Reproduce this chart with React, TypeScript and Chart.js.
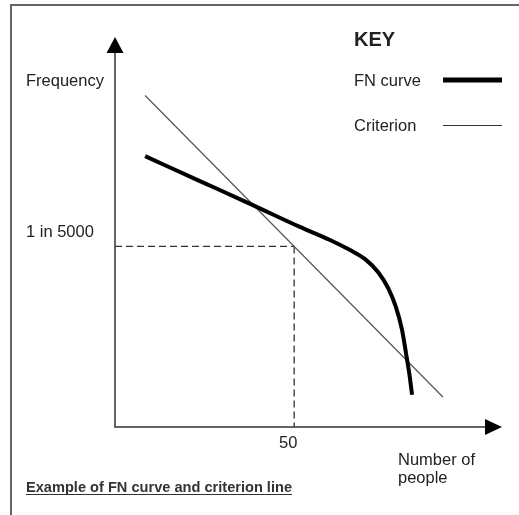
import React, { useEffect, useRef } from 'react';
import { Chart, registerables } from 'chart.js';

Chart.register(...registerables);

// ---- data (arbitrary schematic units) ----
const fnX = [8.4, 23.7, 37.7, 51.6, 60.0, 65.6, 69.8, 73.4, 76.2, 78.4, 80.1, 81.2, 82.1, 82.9];
const fnY = [75.0, 68.1, 61.8, 55.4, 51.8, 49.0, 46.5, 42.9, 38.5, 33.2, 26.9, 20.5, 15.0, 8.9];
const criterionX = [8.4, 91.5];
const criterionY = [91.8, 8.3];
const refX = 50;
const refY = 50;
const xTickValues = [50];
const xTickLabels = ['50'];
const yTickValues = [50];
const yTickLabels = ['1 in 5000'];
const xAxisTitle = ['Number of', 'people'];
const yAxisTitle = 'Frequency';
const legendTitle = 'KEY';
const seriesNames = ['FN curve', 'Criterion'];
const caption = 'Example of FN curve and criterion line';
const axisMax = 108;

const FONT = '"Liberation Sans", Arial, sans-serif';
const TEXT = '#222';

const decorPlugin = {
  id: 'decor',
  beforeDraw(chart: any) {
    const ctx = chart.ctx;
    ctx.save();
    ctx.fillStyle = '#fff';
    ctx.fillRect(0, 0, chart.width, chart.height);
    // frame
    ctx.strokeStyle = '#666';
    ctx.lineWidth = 2;
    ctx.beginPath();
    ctx.moveTo(11, chart.height);
    ctx.lineTo(11, 5);
    ctx.lineTo(chart.width, 5);
    ctx.stroke();
    ctx.restore();
  },
  beforeDatasetsDraw(chart: any) {
    const ctx = chart.ctx;
    const xs = chart.scales.x;
    const ys = chart.scales.y;
    const ca = chart.chartArea;
    const x0 = xs.getPixelForValue(0);
    const y0 = ys.getPixelForValue(0);
    ctx.save();
    ctx.strokeStyle = '#333';
    ctx.lineWidth = 1.5;
    ctx.beginPath();
    ctx.moveTo(x0, ca.top + 10);
    ctx.lineTo(x0, y0);
    ctx.lineTo(ca.right - 10, y0);
    ctx.stroke();
    ctx.fillStyle = '#000';
    // y arrow
    ctx.beginPath();
    ctx.moveTo(x0, ca.top);
    ctx.lineTo(x0 - 8.5, ca.top + 16);
    ctx.lineTo(x0 + 8.5, ca.top + 16);
    ctx.closePath();
    ctx.fill();
    // x arrow
    ctx.beginPath();
    ctx.moveTo(ca.right, y0);
    ctx.lineTo(ca.right - 17, y0 - 8);
    ctx.lineTo(ca.right - 17, y0 + 8);
    ctx.closePath();
    ctx.fill();

    // texts
    ctx.fillStyle = TEXT;
    ctx.textBaseline = 'middle';
    ctx.font = `16.5px ${FONT}`;
    ctx.textAlign = 'left';
    ctx.fillText(yAxisTitle, 26, 81);
    yTickValues.forEach((v, i) => {
      ctx.fillText(yTickLabels[i], 26, ys.getPixelForValue(v) - 14);
    });
    ctx.textAlign = 'center';
    xTickValues.forEach((v, i) => {
      ctx.fillText(xTickLabels[i], xs.getPixelForValue(v) - 6, y0 + 16);
    });
    ctx.textAlign = 'left';
    xAxisTitle.forEach((t, i) => {
      ctx.fillText(t, 398, 460 + i * 18);
    });

    // legend
    ctx.font = `bold 20px ${FONT}`;
    ctx.fillText(legendTitle, 354, 40);
    ctx.font = `16.5px ${FONT}`;
    ctx.fillText(seriesNames[0], 354, 81);
    ctx.fillText(seriesNames[1], 354, 126);
    ctx.strokeStyle = '#000';
    ctx.lineWidth = 5;
    ctx.beginPath();
    ctx.moveTo(443, 80);
    ctx.lineTo(502, 80);
    ctx.stroke();
    ctx.strokeStyle = '#333';
    ctx.lineWidth = 1.2;
    ctx.beginPath();
    ctx.moveTo(443, 125.5);
    ctx.lineTo(502, 125.5);
    ctx.stroke();

    // caption
    ctx.font = `bold 14.6px ${FONT}`;
    ctx.fillStyle = '#333';
    ctx.fillText(caption, 26, 488);
    const w = ctx.measureText(caption).width;
    ctx.strokeStyle = '#333';
    ctx.lineWidth = 1;
    ctx.beginPath();
    ctx.moveTo(26, 494.5);
    ctx.lineTo(26 + w, 494.5);
    ctx.stroke();
    ctx.restore();
  },
};

export default function App() {
  const ref = useRef<HTMLCanvasElement>(null);
  useEffect(() => {
    if (!ref.current) return;
    const chart = new Chart(ref.current, {
      type: 'line',
      data: {
        datasets: [
          {
            label: seriesNames[0],
            data: fnX.map((x, i) => ({ x, y: fnY[i] })),
            borderColor: '#000',
            borderWidth: 4,
            pointRadius: 0,
            cubicInterpolationMode: 'monotone',
            borderCapStyle: 'butt',
            clip: false,
          } as any,
          {
            label: seriesNames[1],
            data: criterionX.map((x, i) => ({ x, y: criterionY[i] })),
            borderColor: '#555',
            borderWidth: 1.2,
            pointRadius: 0,
            clip: false,
          },
          {
            label: 'ref-h',
            data: [
              { x: 0, y: refY },
              { x: refX, y: refY },
            ],
            borderColor: '#333',
            borderWidth: 1.3,
            borderDash: [7, 4],
            pointRadius: 0,
            clip: false,
          },
          {
            label: 'ref-v',
            data: [
              { x: refX, y: refY },
              { x: refX, y: 0 },
            ],
            borderColor: '#333',
            borderWidth: 1.3,
            borderDash: [7, 4],
            pointRadius: 0,
            clip: false,
          },
        ],
      },
      options: {
        responsive: false,
        animation: false,
        devicePixelRatio: window.devicePixelRatio || 1,
        layout: { padding: { left: 115, right: 17, top: 37, bottom: 88 } },
        scales: {
          x: { type: 'linear', min: 0, max: axisMax, display: false },
          y: { type: 'linear', min: 0, max: axisMax, display: false },
        },
        plugins: { legend: { display: false }, tooltip: { enabled: false } },
        events: [],
      },
      plugins: [decorPlugin],
    });
    return () => chart.destroy();
  }, []);
  return (
    <div style={{ position: 'absolute', left: 0, top: 0, width: 519, height: 515 }}>
      <canvas ref={ref} width={519} height={515} style={{ width: 519, height: 515, display: 'block' }} />
    </div>
  );
}
